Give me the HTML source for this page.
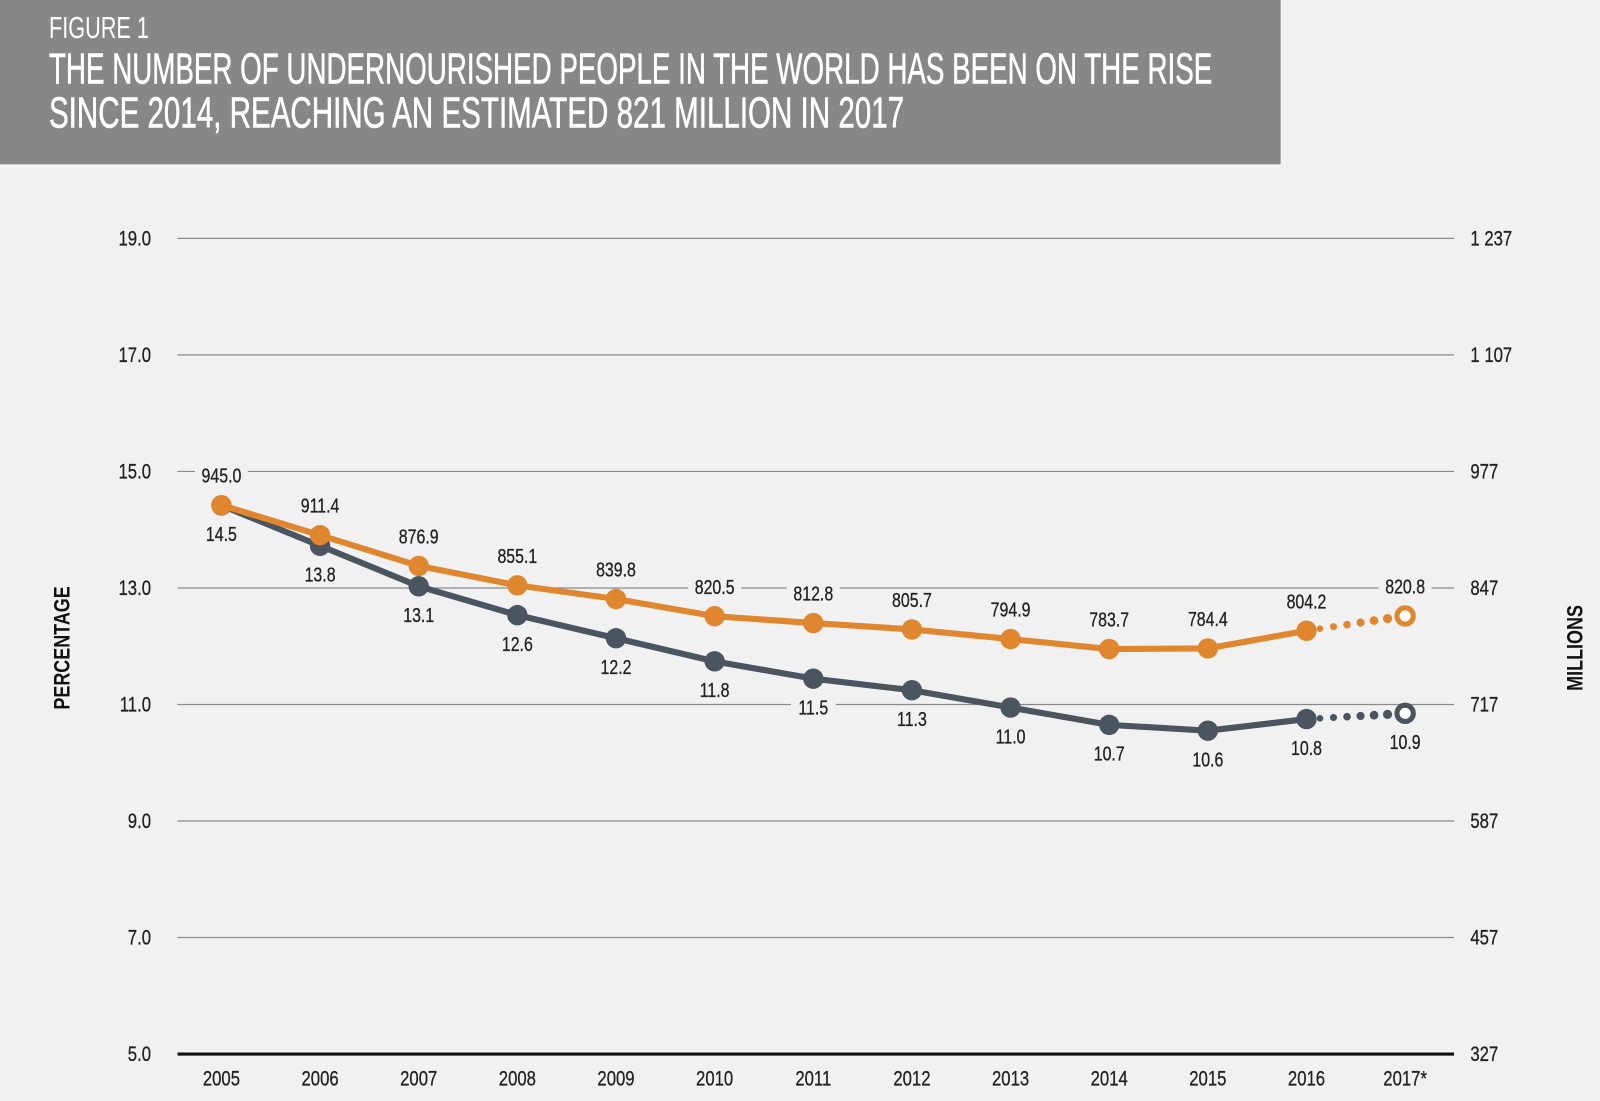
<!DOCTYPE html>
<html><head><meta charset="utf-8"><style>
html,body{margin:0;padding:0;background:#f1f1f1;}
svg{display:block;}
text{font-family:"Liberation Sans Narrow","Liberation Sans",sans-serif;}
</style></head><body>
<svg id="chart" width="1600" height="1101" viewBox="0 0 1600 1101">
<rect x="0" y="0" width="1600" height="1101" fill="#f1f1f1"/>
<g transform="scale(1.0204)">
<rect x="0" y="0" width="1255" height="161" fill="#878787"/>
<text x="48" y="37" font-size="30" fill="#fff" textLength="98" lengthAdjust="spacingAndGlyphs">FIGURE 1</text>
<text x="48" y="82" font-size="43" fill="#fff" stroke="#fff" stroke-width="0.6" textLength="1140" lengthAdjust="spacingAndGlyphs">THE NUMBER OF UNDERNOURISHED PEOPLE IN THE WORLD HAS BEEN ON THE RISE</text>
<text x="48" y="125" font-size="43" fill="#fff" stroke="#fff" stroke-width="0.6" textLength="838" lengthAdjust="spacingAndGlyphs">SINCE 2014, REACHING AN ESTIMATED 821 MILLION IN 2017</text>
<g id="grid"></g>
<g id="marks"></g>
<text transform="translate(68,635) rotate(-90) scale(0.8,1)" text-anchor="middle" font-size="22" font-weight="bold" fill="#111">PERCENTAGE</text>
<text transform="translate(1551,635) rotate(-90) scale(0.8,1)" text-anchor="middle" font-size="22" font-weight="bold" fill="#111">MILLIONS</text>
</g>
</svg>
<script>
const years=["2005","2006","2007","2008","2009","2010","2011","2012","2013","2014","2015","2016","2017*"];
const prevalence=[14.5,13.8,13.1,12.6,12.2,11.8,11.5,11.3,11.0,10.7,10.6,10.8,10.9];
const millions=[945.0,911.4,876.9,855.1,839.8,820.5,812.8,805.7,794.9,783.7,784.4,804.2,820.8];
const leftTicks=[5,7,9,11,13,15,17,19];
const rightTicks=["327","457","587","717","847","977","1 107","1 237"];
const NS="http://www.w3.org/2000/svg";
function xS(i){return 217+i*96.67;}
function yG(v){return 1033-(v-5)*57.1;}
function yL(v){return 1033-(v-5)*56.6;}
function yR(v){return 1321-0.874*v;}
function mk(tag,attrs,parent){const e=document.createElementNS(NS,tag);for(const k in attrs)e.setAttribute(k,attrs[k]);parent.appendChild(e);return e;}
function txt(x,y,s,anchor,size,parent){const t=mk('text',{transform:'translate('+x+','+y+') scale(0.78,1)','text-anchor':anchor,'font-size':size,fill:'#222',stroke:'#222','stroke-width':0.3},parent);t.textContent=s;return t;}
const grid=document.getElementById('grid'),marks=document.getElementById('marks');
leftTicks.forEach((t,i)=>{
 const y=yG(t);
 const ln=mk('line',{x1:174,x2:1425,y1:y,y2:y,stroke:i===0?'#111':'#8a8a8a','stroke-width':i===0?3:1.2},grid);
 
 
 const lt=txt(148,y+7,t.toFixed(1),'end',21,grid);
 
 
 const rt=txt(1441,y+7,rightTicks[i],'start',21,grid);
 
 
});
years.forEach((yr,i)=>{
 const t=txt(xS(i),1064,yr,'middle',21,grid);
 
 
});
function series(vals,ys,color,name){
 const n=vals.length;
 let d='';for(let i=0;i<n-1;i++)d+=(i?'L':'M')+xS(i)+','+ys(vals[i]);
 const p=mk('path',{d:d,fill:'none',stroke:color,'stroke-width':6,'stroke-linejoin':'round'},marks);
 
 
 const x0=xS(n-2),y0=ys(vals[n-2]),x1=xS(n-1),y1=ys(vals[n-1]);
 for(let k=1;k<=6;k++){const f=k/7.3;
  const c=mk('circle',{cx:x0+(x1-x0)*f,cy:y0+(y1-y0)*f,r:3+k*0.25,fill:color},marks);
  
  }
 for(let i=0;i<n;i++){
  const last=i===n-1;
  const c=mk('circle',{cx:xS(i),cy:ys(vals[i]),r:last?8:10,fill:last?'#fff':color,stroke:color,'stroke-width':last?5:0},marks);
  
  
 }
}
function labels(vals,ys,name,dy){
 vals.forEach((v,i)=>{
  const x=xS(i),y=ys(v)+dy;
  const s=v.toFixed(1);
  const r=mk('rect',{x:x-s.length*4-6,y:y-17,width:s.length*8+12,height:22,fill:'#f1f1f1'},marks);
  
  
  const t=txt(x,y,s,'middle',20,marks);
  
  
 });
}
series(prevalence,yL,'#4a5560','prevalence');
series(millions,yR,'#e0862f','millions');
labels(millions,yR,'millions',-22);
labels(prevalence,yL,'prevalence',35);
</script>
</body></html>
